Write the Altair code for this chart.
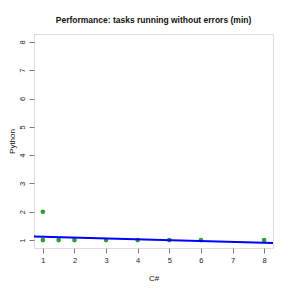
import altair as alt
import pandas as pd

# observations (C# vs Python)
csharp = [1, 1, 1.5, 2, 3, 4, 5, 6, 8]
python = [1, 2, 1, 1, 1, 1, 1, 1, 1]

# fitted line (ends at the plot edges)
fit_x = [0.72, 8.28]
fit_y = [1.13, 0.90]

ticks = [1, 2, 3, 4, 5, 6, 7, 8]

pts = pd.DataFrame({"C#": csharp, "Python": python})
fit = pd.DataFrame({"C#": fit_x, "Python": fit_y})

FONT = "Liberation Sans"
xs = alt.Scale(domain=[0.72, 8.28], nice=False, zero=False)
ys = alt.Scale(domain=[0.72, 8.28], nice=False, zero=False)

x_axis = alt.Axis(values=ticks, title="C#", grid=False, domain=False,
                  tickColor="#777777", tickSize=5, labelFontSize=7.5,
                  labelColor="#222222", labelPadding=3, labelOverlap=False,
                  titleFontSize=8, titleFontWeight="normal",
                  titleColor="#111111", titleY=26, titleBaseline="top",
                  labelFont=FONT, titleFont=FONT)
y_axis = alt.Axis(values=ticks, title="Python", grid=False, domain=False,
                  tickColor="#777777", tickSize=5, labelFontSize=7.5,
                  labelColor="#222222", labelAngle=270, labelAlign="center",
                  labelBaseline="bottom", labelPadding=3, labelOverlap=False,
                  titleFontSize=8, titleFontWeight="normal",
                  titleColor="#111111", titleX=-18, titleY=107,
                  titleAngle=270, titleAlign="center", titleBaseline="bottom",
                  labelFont=FONT, titleFont=FONT)

points = alt.Chart(pts).mark_circle(size=22, color="#2e9e2e", opacity=1).encode(
    x=alt.X("C#:Q", scale=xs, axis=x_axis),
    y=alt.Y("Python:Q", scale=ys, axis=y_axis),
)

line = alt.Chart(fit).mark_line(color="#0000ff", strokeWidth=2, clip=True).encode(
    x=alt.X("C#:Q", scale=xs, axis=x_axis),
    y=alt.Y("Python:Q", scale=ys, axis=y_axis),
)

chart = (points + line).properties(
    width=239,
    height=214,
    title=alt.TitleParams("Performance: tasks running without errors (min)",
                          fontSize=8.5, font=FONT, fontWeight="bold",
                          color="#111111", offset=10),
    autosize=alt.AutoSizeParams(type="none"),
    padding={"left": 26, "top": 26, "right": 10, "bottom": 35},
).configure_view(stroke="#777777", strokeWidth=1).configure_axis(
    labelOverlap=False).configure(background="white")

chart.save("out.html", embed_options={"renderer": "svg", "actions": False})
